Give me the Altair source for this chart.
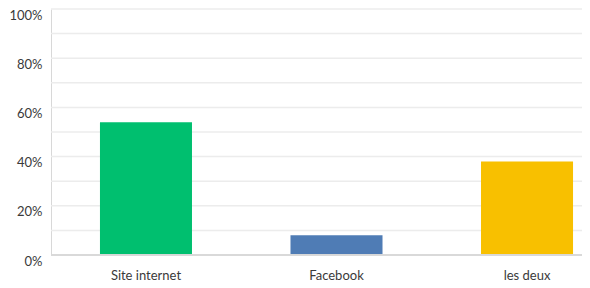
import altair as alt
import pandas as pd

categories = ["Site internet", "Facebook", "les deux"]
values = [0.54, 0.08, 0.38]
colors = ["#00BF6F", "#4F7CB5", "#F8C000"]
grid_values = [i / 10 for i in range(1, 11)]
label_values = [0, 0.2, 0.4, 0.6, 0.8, 1.0]

df = pd.DataFrame({"cat": categories, "val": values})
grid_df = pd.DataFrame({"g": grid_values})

FONT = "Lato"

yscale = alt.Scale(domain=[0, 1], nice=False)

grid = alt.Chart(grid_df).mark_rule(color="#ececec", strokeWidth=1.5).encode(
    y=alt.Y("g:Q", scale=yscale)
)

bars = alt.Chart(df).mark_bar().encode(
    x=alt.X("cat:N", sort=categories, title=None,
            scale=alt.Scale(range=[0, 571], paddingInner=0.517, paddingOuter=0.257),
            axis=alt.Axis(labelAngle=0, domain=False, ticks=False, labelPadding=14,
                          labelFontSize=13, labelColor="#3a3a3a", labelFont=FONT)),
    y=alt.Y("val:Q", title=None, scale=yscale,
            axis=alt.Axis(values=label_values, format=".0%", grid=False,
                          ticks=False, domainColor="#d8d8d8",
                          labelFontSize=13, labelColor="#3a3a3a", labelFont=FONT,
                          labelPadding=9, labelOffset=6)),
    color=alt.Color("cat:N", scale=alt.Scale(domain=categories, range=colors), legend=None),
)

base = alt.Chart(df).mark_rule(color="#d8d8d8", strokeWidth=1.5).encode(y=alt.datum(0))

chart = alt.layer(grid, bars, base).properties(
    width=531, height=246,
    autosize=alt.AutoSizeParams(type="none"),
    padding={"top": 1, "left": 43, "right": 0, "bottom": 32},
).configure_view(stroke=None)

chart.save("out.html", embed_options={"renderer": "svg", "actions": False})
